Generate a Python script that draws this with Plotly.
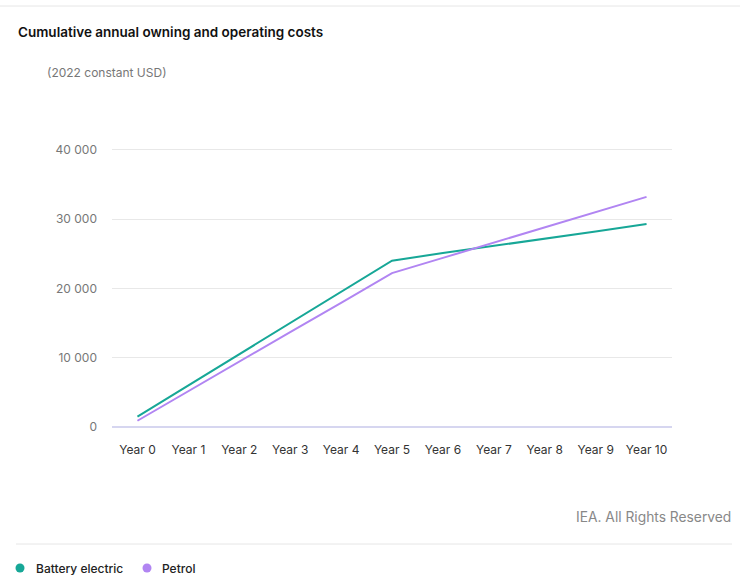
import plotly.graph_objects as go

years = ["Year 0", "Year 1", "Year 2", "Year 3", "Year 4", "Year 5",
         "Year 6", "Year 7", "Year 8", "Year 9", "Year 10"]
battery_electric = [1500, 6000, 10500, 15000, 19500, 24000, 25100, 26100, 27200, 28200, 29300]
petrol = [900, 5200, 9400, 13700, 17900, 22200, 24400, 26600, 28800, 31000, 33200]
y_ticks = [0, 10000, 20000, 30000, 40000]
y_tick_labels = ["0", "10 000", "20 000", "30 000", "40 000"]
series_names = ["Battery electric", "Petrol"]

TEAL = "#17a797"
PURPLE = "#b185f2"
FONT = "Inter, 'Open Sans', sans-serif"

W, H = 740, 584
L, R, T, B = 112, 68, 147, 157
pw, ph = W - L - R, H - T - B


def px(xp):
    return (xp - L) / pw


def py(yp):
    return (H - B - yp) / ph


fig = go.Figure()
fig.add_trace(go.Scatter(x=years, y=battery_electric, mode="lines", name=series_names[0],
                         line=dict(color=TEAL, width=2)))
fig.add_trace(go.Scatter(x=years, y=petrol, mode="lines", name=series_names[1],
                         line=dict(color=PURPLE, width=2)))

shapes = [
    dict(type="line", xref="paper", yref="paper", x0=px(0), x1=px(740), y0=py(6), y1=py(6),
         line=dict(color="#e6e6e6", width=1)),
    dict(type="line", xref="paper", yref="paper", x0=px(16), x1=px(732), y0=py(544), y1=py(544),
         line=dict(color="#e6e6e6", width=1)),
]
annotations = [
    dict(text="Cumulative annual owning and operating costs", xref="paper", yref="paper",
         x=px(16), y=py(32), xanchor="left", yanchor="middle", showarrow=False,
         font=dict(size=13.5, color="#111111", family=FONT, weight=600)),
    dict(text="(2022 constant USD)", xref="paper", yref="paper",
         x=px(45), y=py(72), xanchor="left", yanchor="middle", showarrow=False,
         font=dict(size=12, color="#777777", family=FONT)),
    dict(text="IEA. All Rights Reserved", xref="paper", yref="paper",
         x=px(733), y=py(517), xanchor="right", yanchor="middle", showarrow=False,
         font=dict(size=13.8, color="#888888", family=FONT)),
]

# custom legend (dots + labels)
legend_items = [(20, 34, TEAL, series_names[0]), (147, 160, PURPLE, series_names[1])]
for dot_x, text_x, color, name in legend_items:
    shapes.append(dict(type="circle", xref="paper", yref="paper",
                       x0=px(dot_x - 4.5), x1=px(dot_x + 4.5), y0=py(568 + 4.5), y1=py(568 - 4.5),
                       fillcolor=color, line=dict(width=0)))
    annotations.append(dict(text=name, xref="paper", yref="paper", x=px(text_x), y=py(568),
                            xanchor="left", yanchor="middle", showarrow=False,
                            font=dict(size=12, color="#222222", family=FONT, weight=500)))

fig.update_layout(
    width=W, height=H,
    margin=dict(l=L, r=R, t=T, b=B),
    paper_bgcolor="white", plot_bgcolor="white",
    font=dict(family=FONT, size=12, color="#666666"),
    showlegend=False,
    xaxis=dict(range=[-0.5, 10.5], showgrid=False, zeroline=False, showline=False,
               ticks="", ticklabelstandoff=14,
               tickfont=dict(size=12, color="#333333"), fixedrange=True),
    yaxis=dict(range=[0, 40400], tickvals=y_ticks, ticktext=y_tick_labels,
               showgrid=True, gridcolor="#e8e8e8", gridwidth=1,
               zeroline=True, zerolinecolor="#d6d6f0", zerolinewidth=2,
               showline=False, ticks="", ticklabelstandoff=14,
               tickfont=dict(size=12, color="#777777"), fixedrange=True),
    annotations=annotations,
    shapes=shapes,
)

fig.write_html("out.html")
